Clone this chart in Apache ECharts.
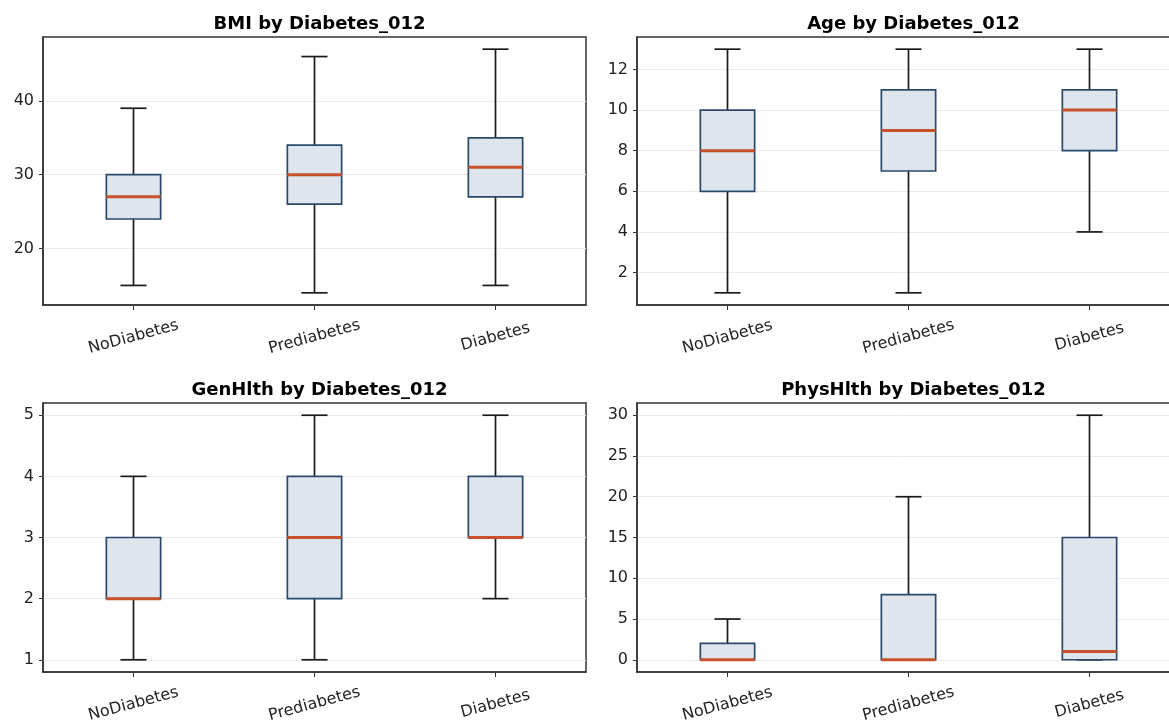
<!DOCTYPE html>
<html>
<head>
<meta charset="utf-8">
<title>Health indicators by Diabetes_012</title>
<script src="https://cdn.jsdelivr.net/npm/echarts@6/dist/echarts.min.js"></script>
<style>
  html, body { margin: 0; padding: 0; background: #ffffff; overflow: hidden; }
  #chart { width: 1169px; height: 721px; }
</style>
</head>
<body>
<div id="chart"></div>
<script>
// Diabetes classes shown on every x axis
const categories = ['NoDiabetes', 'Prediabetes', 'Diabetes'];

// Five-number summaries per class: [lower whisker, Q1, median, Q3, upper whisker]
const bmiStats      = [[15, 24, 27, 30, 39], [14, 26, 30, 34, 46], [15, 27, 31, 35, 47]];
const ageStats      = [[1, 6, 8, 10, 13],    [1, 7, 9, 11, 13],    [4, 8, 10, 11, 13]];
const genHlthStats  = [[1, 2, 2, 3, 4],      [1, 2, 3, 4, 5],      [2, 3, 3, 4, 5]];
const physHlthStats = [[0, 0, 0, 2, 5],      [0, 0, 0, 8, 20],     [0, 0, 1, 15, 30]];

// Panel titles
const panelTitles = ['BMI by Diabetes_012', 'Age by Diabetes_012', 'GenHlth by Diabetes_012', 'PhysHlth by Diabetes_012'];

// y-axis tick values per panel
const bmiTicks      = [20, 30, 40];
const ageTicks      = [2, 4, 6, 8, 10, 12];
const genHlthTicks  = [1, 2, 3, 4, 5];
const physHlthTicks = [0, 5, 10, 15, 20, 25, 30];

const panels = [
  { stats: bmiStats,      ticks: bmiTicks,      interval: 10 },
  { stats: ageStats,      ticks: ageTicks,      interval: 2 },
  { stats: genHlthStats,  ticks: genHlthTicks,  interval: 1 },
  { stats: physHlthStats, ticks: physHlthTicks, interval: 5 }
];

// The right-hand panels run slightly past the canvas edge
const gridBoxes = [
  { left: 43,  top: 37,  width: 543, height: 268 },
  { left: 637, top: 37,  width: 543, height: 268 },
  { left: 43,  top: 403, width: 543, height: 269 },
  { left: 637, top: 403, width: 543, height: 269 }
];

const FONT = '"DejaVu Sans", sans-serif';
const TEXT = '#222222';
const FRAME = '#333333';
const BOX_FILL = '#dfe5ed';
const BOX_EDGE = '#2b4a6b';
const MEDIAN = '#c8502b';
const WHISKER = '#1a1a1a';

// Axis range padded by 5% of the data span on each side
function paddedRange(stats) {
  let lo = Infinity, hi = -Infinity;
  stats.forEach(s => { lo = Math.min(lo, s[0]); hi = Math.max(hi, s[4]); });
  const pad = (hi - lo) * 0.05;
  return [lo - pad, hi + pad];
}

function renderBox(params, api) {
  const idx = api.value(0);
  const lo = api.coord([idx, api.value(1)]);
  const q1 = api.coord([idx, api.value(2)]);
  const md = api.coord([idx, api.value(3)]);
  const q3 = api.coord([idx, api.value(4)]);
  const hi = api.coord([idx, api.value(5)]);
  const band = api.size([1, 0])[0];
  const boxW = band * 0.30;
  const capW = boxW * 0.48;
  const x = md[0];
  const lineStyle = { stroke: WHISKER, lineWidth: 1.7 };
  return {
    type: 'group',
    children: [
      { type: 'line', shape: { x1: x, y1: q3[1], x2: x, y2: hi[1] }, style: lineStyle },
      { type: 'line', shape: { x1: x, y1: lo[1], x2: x, y2: q1[1] }, style: lineStyle },
      { type: 'line', shape: { x1: x - capW / 2, y1: hi[1], x2: x + capW / 2, y2: hi[1] }, style: lineStyle },
      { type: 'line', shape: { x1: x - capW / 2, y1: lo[1], x2: x + capW / 2, y2: lo[1] }, style: lineStyle },
      { type: 'rect', shape: { x: x - boxW / 2, y: q3[1], width: boxW, height: q1[1] - q3[1] },
        style: { fill: BOX_FILL, stroke: BOX_EDGE, lineWidth: 1.7 } },
      { type: 'line', shape: { x1: x - boxW / 2, y1: md[1], x2: x + boxW / 2, y2: md[1] },
        style: { stroke: MEDIAN, lineWidth: 3 } }
    ]
  };
}

const grid = [], xAxis = [], yAxis = [], series = [], title = [];

panels.forEach((p, i) => {
  const g = gridBoxes[i];
  grid.push(Object.assign({
    show: true, borderColor: FRAME, borderWidth: 1.5, backgroundColor: 'transparent',
    outerBoundsMode: 'none', containLabel: false
  }, g));

  title.push({
    text: panelTitles[i],
    left: g.left + g.width / 2,
    top: i < 2 ? 10 : 376,
    textAlign: 'center',
    textStyle: { fontFamily: FONT, fontSize: 18, fontWeight: 'bold', color: '#000' }
  });

  xAxis.push({
    type: 'category',
    gridIndex: i,
    data: categories,
    boundaryGap: true,
    axisLine: { show: true, onZero: false, lineStyle: { color: FRAME, width: 1.5 } },
    axisTick: { show: true, alignWithLabel: true, length: 5, lineStyle: { color: FRAME, width: 1 } },
    axisLabel: {
      rotate: 15, align: 'center', verticalAlign: 'middle', margin: 32,
      fontFamily: FONT, fontSize: 16, color: TEXT
    },
    splitLine: { show: false }
  });

  const range = paddedRange(p.stats);
  yAxis.push({
    type: 'value',
    gridIndex: i,
    min: range[0],
    max: range[1],
    interval: p.interval,
    axisLine: { show: true, lineStyle: { color: FRAME, width: 1.5 } },
    axisTick: { show: true, length: 4, customValues: p.ticks, lineStyle: { color: FRAME, width: 1 } },
    axisLabel: {
      customValues: p.ticks, margin: 9,
      fontFamily: FONT, fontSize: 16, color: TEXT
    },
    splitLine: { show: true, lineStyle: { color: '#ebebeb', width: 1 } }
  });

  series.push({
    type: 'custom',
    xAxisIndex: i,
    yAxisIndex: i,
    renderItem: renderBox,
    encode: { x: 0, y: [1, 2, 3, 4, 5] },
    data: p.stats.map((s, k) => [k].concat(s)),
    clip: false,
    z: 3
  });
});

const chart = echarts.init(document.getElementById('chart'), null, { renderer: 'canvas' });
chart.setOption({
  animation: false,
  backgroundColor: '#ffffff',
  title, grid, xAxis, yAxis, series
});
</script>
</body>
</html>
